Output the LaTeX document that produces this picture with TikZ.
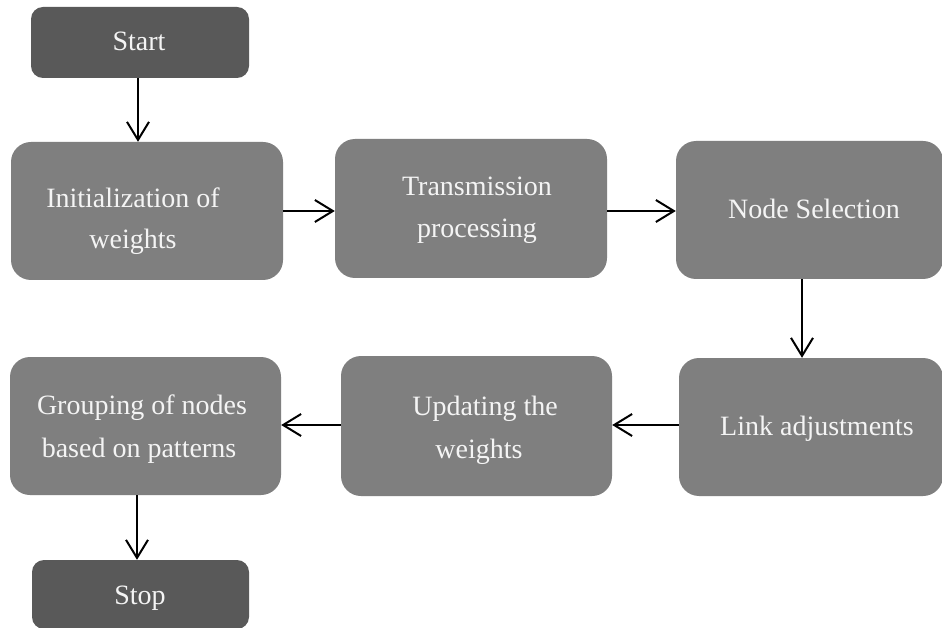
\documentclass[tikz,border=0pt]{standalone}
\usepackage{fontspec}
\setmainfont{Liberation Serif}
\usetikzlibrary{arrows.meta}
\definecolor{boxdark}{HTML}{595959}
\definecolor{boxmid}{HTML}{7F7F7F}
\definecolor{boxtext}{HTML}{F4F4F4}
\tikzset{
  stepbox/.style={fill=boxmid, draw=none, rounded corners=20pt, inner sep=0pt},
  endbox/.style={fill=boxdark, draw=none, rounded corners=12pt, inner sep=0pt},
  lbl/.style={anchor=base, inner sep=0pt, text=boxtext,
    font=\fontsize{28}{34}\selectfont},
  arr/.style={draw=black, line width=2pt,
    -{Straight Barb[length=18pt, width=22pt, line width=2pt]}}
}
\begin{document}
\begin{tikzpicture}[x=1pt, y=-1pt]
\useasboundingbox (0,0) rectangle (942,628);
\fill[white] (0,0) rectangle (942,628);

% boxes
\node[endbox, minimum width=218pt, minimum height=71pt] (start) at (140,42.5) {};
\node[stepbox, minimum width=272pt, minimum height=138pt] (init) at (147,211) {};
\node[stepbox, minimum width=272pt, minimum height=139pt] (trans) at (471,208.5) {};
\node[stepbox, minimum width=267pt, minimum height=138pt] (nodesel) at (809.5,210) {};
\node[stepbox, minimum width=264pt, minimum height=138pt] (link) at (811,427) {};
\node[stepbox, minimum width=271pt, minimum height=140pt] (upd) at (476.5,426) {};
\node[stepbox, minimum width=271pt, minimum height=138pt] (group) at (145.5,426) {};
\node[endbox, minimum width=217pt, minimum height=69pt] (stop) at (140.5,594.5) {};

% labels
\node[lbl] (start-t) at (139,51) {Start};
\node[lbl] (init-t1) at (133,208) {Initialization of};
\node[lbl] (init-t2) at (133,249) {weights};
\node[lbl] (trans-t1) at (477,196) {Transmission};
\node[lbl] (trans-t2) at (477,238) {processing};
\node[lbl] (nodesel-t) at (814,219) {Node Selection};
\node[lbl] (link-t) at (817,435) {Link adjustments};
\node[lbl] (upd-t1) at (485,415) {Updating the};
\node[lbl] (upd-t2) at (479,458) {weights};
\node[lbl] (group-t1) at (142,414) {Grouping of nodes};
\node[lbl] (group-t2) at (139,457) {based on patterns};
\node[lbl] (stop-t) at (140,604) {Stop};

% connectors
\draw[arr] ([xshift=-2pt]start.south) -- ([xshift=-2pt]start.south |- init.north);
\draw[arr] (init.east) -- (init.east -| trans.west);
\draw[arr] ([yshift=-2.5pt]trans.east) -- ([yshift=-2.5pt]trans.east -| nodesel.west);
\draw[arr] ([xshift=-7.5pt]nodesel.south) -- ([xshift=-7.5pt]nodesel.south |- link.north);
\draw[arr] ([yshift=2pt]link.west) -- ([yshift=2pt]link.west -| upd.east);
\draw[arr] ([yshift=1pt]upd.west) -- ([yshift=1pt]upd.west -| group.east);
\draw[arr] ([xshift=-8.5pt]group.south) -- ([xshift=-8.5pt]group.south |- stop.north);
\end{tikzpicture}
\end{document}
